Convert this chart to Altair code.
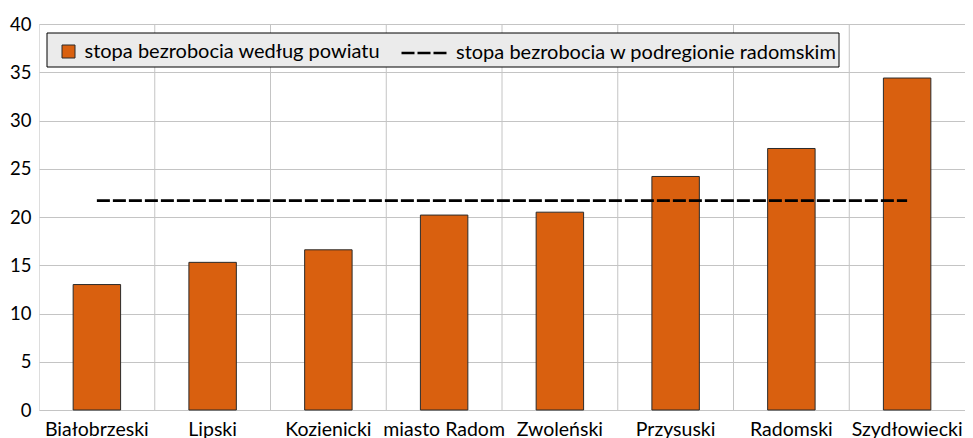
import altair as alt
import pandas as pd

categories = ["Białobrzeski", "Lipski", "Kozienicki", "miasto Radom",
              "Zwoleński", "Przysuski", "Radomski", "Szydłowiecki"]
rates = [13.0, 15.3, 16.6, 20.2, 20.5, 24.2, 27.1, 34.4]
region_rate = 21.7
bar_label = "stopa bezrobocia według powiatu"
line_label = "stopa bezrobocia w podregionie radomskim"
y_ticks = [0, 5, 10, 15, 20, 25, 30, 35, 40]

FONT = "Lato"
BAR_COLOR = "#D9600F"
GRID = "#c4c4c4"

bars_df = pd.DataFrame({"powiat": categories, "stopa": rates, "seria": bar_label})
line_df = pd.DataFrame({"powiat": categories,
                        "stopa": [region_rate] * len(categories),
                        "seria": line_label})
grid_df = pd.DataFrame({"powiat": categories[1:]})

xscale = alt.Scale(domain=categories, paddingInner=0, paddingOuter=0)
yscale = alt.Scale(domain=[0, 40], nice=False)

x_axis = alt.Axis(title=None, labelAngle=0, ticks=False, domain=False, grid=False,
                  labelFont=FONT, labelFontSize=19.5, labelColor="black", labelPadding=10)
y_axis = alt.Axis(title=None, values=y_ticks, ticks=False, domain=False, grid=True,
                  gridColor=GRID, labelFont=FONT, labelFontSize=18.5, labelColor="black",
                  labelPadding=8)

vgrid = alt.Chart(grid_df).mark_rule(color=GRID, strokeWidth=1).encode(
    x=alt.X("powiat:N", scale=xscale, axis=x_axis, bandPosition=0, sort=categories)
)

legend_box = alt.Chart(alt.Data(values=[{"a": 1}])).mark_rect(
    fill="#ebebeb", stroke="black", strokeWidth=1
).encode(
    x=alt.value(8), x2=alt.value(800), y=alt.value(9), y2=alt.value(43)
)

bars = alt.Chart(bars_df).mark_bar(
    width=alt.RelativeBandSize(0.41), stroke="#2b2b2b", strokeWidth=1
).encode(
    x=alt.X("powiat:N", scale=xscale, axis=x_axis, sort=categories),
    y=alt.Y("stopa:Q", scale=yscale, axis=y_axis),
    fill=alt.Fill("seria:N", scale=alt.Scale(domain=[bar_label], range=[BAR_COLOR]),
                  legend=alt.Legend(title=None, orient="none", legendX=19.5, legendY=17.5,
                                    padding=0, symbolType="square", symbolSize=169,
                                    symbolStrokeColor="#2b2b2b", symbolStrokeWidth=1,
                                    symbolOffset=0, labelOffset=6, labelLimit=800,
                                    labelFont=FONT, labelFontSize=20, labelColor="black")),
)

line = alt.Chart(line_df).mark_line(color="black", strokeWidth=2.6).encode(
    x=alt.X("powiat:N", scale=xscale, axis=x_axis, sort=categories),
    y=alt.Y("stopa:Q", scale=yscale, axis=y_axis),
    strokeDash=alt.StrokeDash("seria:N",
                              scale=alt.Scale(domain=[line_label], range=[[13, 3]]),
                              legend=alt.Legend(title=None, orient="none", legendX=361,
                                                legendY=5, padding=0, symbolType="stroke",
                                                symbolSize=2025, symbolStrokeColor="black",
                                                symbolStrokeWidth=2.6, symbolDash=[11, 4],
                                                symbolOffset=0, labelOffset=8,
                                                labelLimit=800,
                                                labelFont=FONT, labelFontSize=20,
                                                labelColor="black")),
)

chart = alt.layer(vgrid, legend_box, bars, line).properties(
    width=926, height=386,
    autosize=alt.AutoSizeParams(type="none"),
    padding={"left": 31, "top": 16, "right": 0, "bottom": 30},
).configure_view(stroke="#595959", strokeWidth=1.2).configure(background="white")

chart.save("out.html", embed_options={"renderer": "svg", "actions": False})
